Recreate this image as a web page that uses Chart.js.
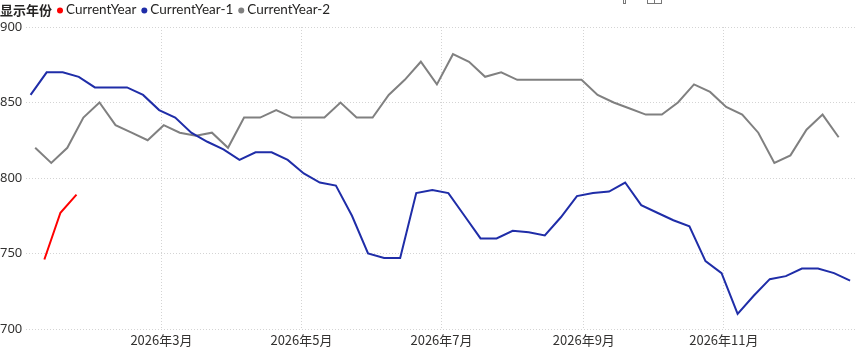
<!DOCTYPE html>
<html>
<head>
<meta charset="utf-8">
<title>显示年份</title>
<script src="https://cdn.jsdelivr.net/npm/chart.js@4.4.1/dist/chart.umd.min.js"></script>
<style>
  html, body { margin: 0; padding: 0; background: #fff; }
  #wrap { position: relative; width: 866px; height: 348px; }
</style>
</head>
<body>
<div id="wrap"><canvas id="chart" width="866" height="348"></canvas></div>
<script>
// Weekly prices. x is the day of year on the 2026 calendar (0 = Jan 1),
// each year's Fridays are laid onto that calendar.
var legendTitle = '显示年份';
var seriesNames = ['CurrentYear', 'CurrentYear-1', 'CurrentYear-2'];
var seriesColors = ['#FF0000', '#1F2DA8', '#808080'];
var firstDay = [8, 2, 4];

var currentYear = [746, 777, 789];

var currentYear1 = [
    855, 870, 870, 867, 860, 860, 860, 855, 845, 840,
    830, 824, 819, 812, 817, 817, 812, 803, 797, 795,
    775, 750, 747, 747, 790, 792, 790, 775, 760, 760,
    765, 764, 762, 774, 788, 790, 791, 797, 782, 777,
    772, 768, 745, 737, 710, 722, 733, 735, 740, 740,
    737, 732
];

var currentYear2 = [
    820, 810, 820, 840, 850, 835, 830, 825, 835, 830,
    828, 830, 820, 840, 840, 845, 840, 840, 840, 850,
    840, 840, 855, 865, 877, 862, 882, 877, 867, 870,
    865, 865, 865, 865, 865, 855, 850, 846, 842, 842,
    850, 862, 857, 847, 842, 830, 810, 815, 832, 842,
    827
];

var monthTicks = [59, 120, 181, 243, 304];
var monthLabels = ['2026年3月', '2026年5月', '2026年7月', '2026年9月', '2026年11月'];
var yTicks = [700, 750, 800, 850, 900];

var textColor = '#333231';
var gridColor = '#d4d4d4';
var latinFont = '"Noto Sans", "Open Sans", sans-serif';
var legendFont = 'Lato, "Noto Sans", sans-serif';
var cjkFont = '"Noto Sans CJK SC", "Noto Sans", sans-serif';

function weekly(values, start) {
    return values.map(function (v, i) {
        return { x: start + i * 7, y: v };
    });
}

var allValues = [currentYear, currentYear1, currentYear2];

var datasets = allValues.map(function (values, i) {
    return {
        label: seriesNames[i],
        data: weekly(values, firstDay[i]),
        borderColor: seriesColors[i],
        backgroundColor: seriesColors[i],
        borderWidth: 2,
        pointRadius: 0,
        tension: 0,
        order: i
    };
});

// legend in one row: bold title, then dot + name for each series,
// plus the two small header icons at the top edge
var headerPlugin = {
    id: 'header',
    afterDraw: function (chart) {
        var ctx = chart.ctx;
        ctx.save();
        ctx.textBaseline = 'middle';
        ctx.textAlign = 'left';

        ctx.font = 'bold 13px ' + cjkFont;
        ctx.fillStyle = '#252423';
        ctx.fillText(legendTitle, 0, 10);
        var x = ctx.measureText(legendTitle).width + 8;

        ctx.font = '13.5px ' + legendFont;
        seriesNames.forEach(function (name, i) {
            ctx.fillStyle = seriesColors[i];
            ctx.beginPath();
            ctx.arc(x, 10.5, 3, 0, Math.PI * 2);
            ctx.fill();
            ctx.fillStyle = '#252423';
            ctx.fillText(name, x + 6, 10);
            x += 6 + ctx.measureText(name).width + 8;
        });

        ctx.strokeStyle = '#777';
        ctx.lineWidth = 1;
        ctx.strokeRect(623.5, -3.5, 2, 7);
        ctx.strokeRect(647.5, -4.5, 14, 8);
        ctx.beginPath();
        ctx.moveTo(654.5, -4);
        ctx.lineTo(654.5, 3.5);
        ctx.stroke();
        ctx.restore();
    }
};

new Chart(document.getElementById('chart'), {
    type: 'line',
    data: { datasets: datasets },
    options: {
        responsive: false,
        animation: false,
        layout: { padding: { top: 27, right: 9, left: 0, bottom: 0 } },
        plugins: {
            legend: { display: false },
            tooltip: { enabled: false }
        },
        scales: {
            x: {
                type: 'linear',
                min: 0,
                max: 362,
                grid: { color: gridColor, lineWidth: 1, drawTicks: false },
                border: { display: false, dash: [1, 2] },
                afterBuildTicks: function (scale) {
                    scale.ticks = monthTicks.map(function (v) { return { value: v }; });
                },
                afterFit: function (scale) { scale.height = 19; },
                ticks: {
                    autoSkip: false,
                    maxRotation: 0,
                    padding: 3,
                    color: textColor,
                    font: { family: cjkFont, size: 13 },
                    callback: function (value, index) { return monthLabels[index]; }
                }
            },
            y: {
                min: 700,
                max: 900,
                grid: { color: gridColor, lineWidth: 1, drawTicks: false },
                border: { display: false, dash: [1, 2] },
                afterBuildTicks: function (scale) {
                    scale.ticks = yTicks.map(function (v) { return { value: v }; });
                },
                afterFit: function (scale) { scale.width = 26; },
                ticks: {
                    crossAlign: 'far',
                    padding: 4,
                    color: textColor,
                    font: { family: latinFont, size: 13 }
                }
            }
        }
    },
    plugins: [headerPlugin]
});
</script>
</body>
</html>
